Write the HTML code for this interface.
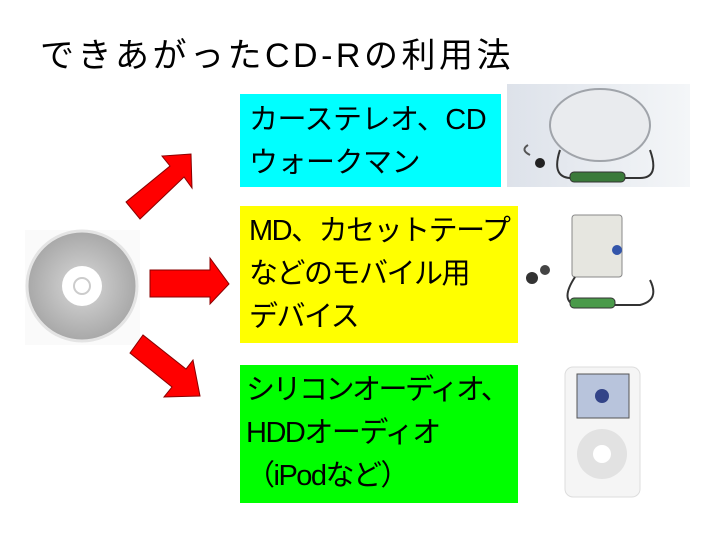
<!DOCTYPE html>
<html><head><meta charset="utf-8"><style>
body{margin:0;width:720px;height:540px;background:#fff;position:relative;overflow:hidden;font-family:"Liberation Sans","Noto Sans CJK JP",sans-serif;}
.t{position:absolute;left:40px;top:28px;font-size:34px;letter-spacing:3.5px;color:#000;white-space:nowrap}
.b{position:absolute;left:240px;font-size:29px;line-height:43px;letter-spacing:-1.5px;padding-left:9px;box-sizing:border-box;white-space:nowrap;color:#000}
</style></head><body>
<div class="t">できあがったCD-Rの利用法</div>
<div class="b" style="top:94px;width:261px;height:93px;background:#00ffff;padding-top:5px;letter-spacing:-0.5px">カーステレオ、CD<br>ウォークマン</div>
<div class="b" style="top:206px;width:278px;height:137px;background:#ffff00;padding-top:4px">MD、カセットテープ<br>などのモバイル用<br>デバイス</div>
<div class="b" style="top:365px;width:278px;height:138px;background:#00ff00;padding-top:4px;padding-left:6px"><span style="letter-spacing:-2.5px">シリコンオーディオ、</span><br>HDDオーディオ<br>（iPodなど）</div>
<svg width="720" height="540" style="position:absolute;left:0;top:0">
<defs><radialGradient id="g" cx="50%" cy="50%" r="50%"><stop offset="0" stop-color="#d8d8d8"/><stop offset="1" stop-color="#a8a8a8"/></radialGradient>
<linearGradient id="bg1" x1="0" y1="0" x2="1" y2="0"><stop offset="0" stop-color="#dde2ea"/><stop offset="1" stop-color="#f4f6f8"/></linearGradient></defs>
<rect x="25" y="230" width="115" height="115" fill="#fafafa"/>
<circle cx="82" cy="286" r="55" fill="url(#g)" stroke="#e4e4e4" stroke-width="3"/>
<circle cx="82" cy="286" r="20" fill="#fff"/>
<circle cx="82" cy="286" r="8" fill="none" stroke="#ccc" stroke-width="2"/>
<g fill="#f00" stroke="#800" stroke-width="1">
<polygon points="150,270 210,270 210,258 229,284 210,304 210,297 150,297"/>
<polygon points="126,202 170,166 162,156 191,154 192,188 184,177 140,219"/>
<polygon points="130,353 143,335 186,369 193,360 200,396 164,397 172,387"/>
</g>
<rect x="507" y="84" width="183" height="103" fill="url(#bg1)"/>
<ellipse cx="600" cy="125" rx="50" ry="36" fill="#e9ebee" stroke="#a0a4aa" stroke-width="2"/>
<path d="M560 150 Q550 180 575 178 L640 178 Q660 178 650 150" fill="none" stroke="#333" stroke-width="2"/>
<rect x="570" y="172" width="55" height="10" rx="4" fill="#3a7a3a" stroke="#333"/>
<circle cx="540" cy="163" r="5" fill="#222"/>
<path d="M530 155 Q520 150 528 145" fill="none" stroke="#555" stroke-width="2"/>
<rect x="572" y="215" width="50" height="62" rx="3" fill="#e6e6e0" stroke="#888"/>
<circle cx="617" cy="250" r="5" fill="#3355aa"/>
<path d="M575 277 Q560 300 575 305 L640 305 Q660 300 650 280" fill="none" stroke="#333" stroke-width="2"/>
<rect x="570" y="298" width="45" height="10" rx="4" fill="#4a9a4a" stroke="#333"/>
<circle cx="532" cy="278" r="6" fill="#333"/>
<circle cx="545" cy="270" r="5" fill="#444"/>
<rect x="565" y="367" width="75" height="130" rx="8" fill="#f5f5f5" stroke="#ddd"/>
<rect x="577" y="374" width="52" height="44" fill="#b8c4dc" stroke="#555"/>
<circle cx="602" cy="396" r="7" fill="#334488"/>
<circle cx="602" cy="454" r="25" fill="#e2e2e2"/>
<circle cx="602" cy="454" r="9" fill="#fff"/>
</svg>
</body></html>
